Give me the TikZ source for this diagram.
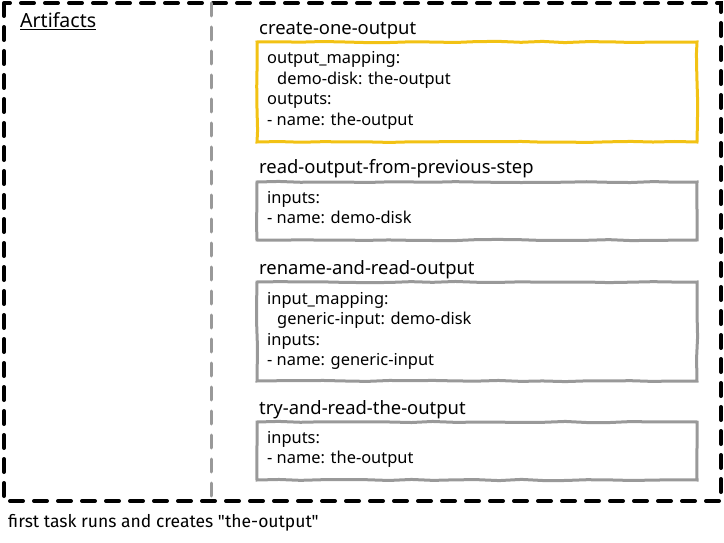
\documentclass[tikz,border=0pt]{standalone}
\usepackage{fontspec}
\setmainfont{Noto Sans}
\newfontfamily\handfont{Fira Sans}
\usetikzlibrary{decorations.pathmorphing}
\definecolor{boxgray}{RGB}{153,153,153}
\definecolor{boxyellow}{RGB}{242,194,20}
\tikzset{
  sketch/.style={decorate, decoration={random steps, segment length=22pt, amplitude=0.6pt}},
  outerframe/.style={draw=black, line width=4pt, line cap=round, dash pattern=on 13pt off 11pt},
  divider/.style={draw=boxgray, line width=3pt, line cap=round, dash pattern=on 13pt off 11pt},
  taskbox/.style={draw=boxgray, line width=3pt, sketch},
  activebox/.style={draw=boxyellow, line width=3pt, sketch},
  tasktitle/.style={inner sep=0pt, anchor=base west, font=\fontsize{18.4}{22}\selectfont},
  bodyline/.style={inner sep=0pt, anchor=base west, font=\fontsize{16.4}{20}\selectfont},
  caption/.style={inner sep=0pt, anchor=base west, font=\handfont\fontsize{17.5}{20}\selectfont},
}
\begin{document}
\begin{tikzpicture}[x=1pt, y=-1pt]
\pgfmathsetseed{7}
\useasboundingbox (0,0) rectangle (724,543);
% frame and divider
\draw[outerframe] (4,3) rectangle (721,501);
\coordinate (dtop) at (211,3);
\coordinate (dbot) at (211,501);
\draw[divider] (dtop) -- (dbot);
\node[inner sep=0pt, anchor=base west, font=\fontsize{19.5}{22}\selectfont] (artifacts) at (20,28) {\underline{Artifacts}};
% box 1
\node[tasktitle] (t1) at (259,35) {create-one-output};
\draw[activebox] (257,42) rectangle (697,142);
\node[bodyline] (b1l1) at (267,64) {output\_mapping:};
\node[bodyline] (b1l2) at (277,84.5) {demo-disk: the-output};
\node[bodyline] (b1l3) at (267,105) {outputs:};
\node[bodyline] (b1l4) at (267,125.5) {- name: the-output};
% box 2
\node[tasktitle] (t2) at (259,174) {read-output-from-previous-step};
\draw[taskbox] (257,182) rectangle (697,240);
\node[bodyline] (b2l1) at (267,203) {inputs:};
\node[bodyline] (b2l2) at (267,223.5) {- name: demo-disk};
% box 3
\node[tasktitle] (t3) at (259,274) {rename-and-read-output};
\draw[taskbox] (257,282) rectangle (697,381);
\node[bodyline] (b3l1) at (267,304) {input\_mapping:};
\node[bodyline] (b3l2) at (277,324.5) {generic-input: demo-disk};
\node[bodyline] (b3l3) at (267,345) {inputs:};
\node[bodyline] (b3l4) at (267,365.5) {- name: generic-input};
% box 4
\node[tasktitle] (t4) at (259,414) {try-and-read-the-output};
\draw[taskbox] (257,422) rectangle (697,480);
\node[bodyline] (b4l1) at (267,443) {inputs:};
\node[bodyline] (b4l2) at (267,463.5) {- name: the-output};
% caption
\node[caption] (cap) at (8,527) {first task runs and creates "the-output"};
\end{tikzpicture}
\end{document}
